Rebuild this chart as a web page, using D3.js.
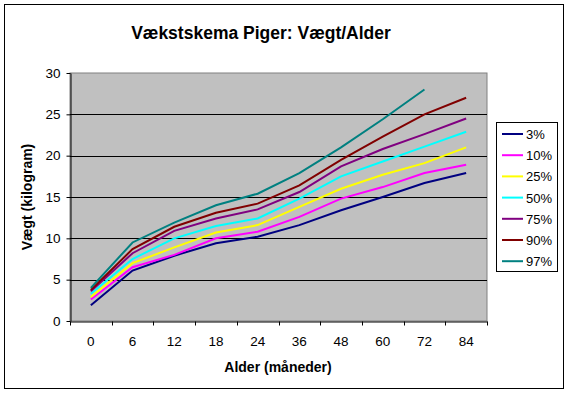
<!DOCTYPE html>
<html>
<head>
<meta charset="utf-8">
<script src="https://d3js.org/d3.v7.min.js"></script>
<style>
  body { margin: 0; background: white; }
  text { font-family: "Liberation Sans", Arial, sans-serif; }
</style>
</head>
<body>
<svg width="568" height="393"></svg>
<script>
// alder i måneder (kategorier på x-aksen)
const ages = ["0", "6", "12", "18", "24", "36", "48", "60", "72", "84"];
const yTicks = [0, 5, 10, 15, 20, 25, 30];

// vægt (kg) pr. percentil
const p3  = [1.9, 6.1, 7.9, 9.4, 10.2, 11.6, 13.4, 15.0, 16.7, 17.9];
const p10 = [2.6, 6.5, 8.0, 10.0, 10.8, 12.6, 14.8, 16.2, 17.9, 18.9];
const p25 = [2.9, 7.0, 8.9, 10.7, 11.6, 13.8, 16.0, 17.7, 19.1, 21.0];
const p50 = [3.3, 7.5, 10.0, 11.5, 12.4, 14.8, 17.5, 19.3, 21.1, 22.9];
const p75 = [3.6, 8.2, 10.9, 12.4, 13.5, 15.6, 18.7, 20.8, 22.6, 24.5];
const p90 = [3.75, 8.7, 11.4, 13.1, 14.2, 16.4, 19.5, 22.3, 25.0, 27.0];
const p97 = [4.0, 9.5, 11.9, 14.0, 15.4, 17.9, 21.0, 24.4, 28.0];

const series = [
  { name: "3%",  values: p3,  color: "#000080" },
  { name: "10%", values: p10, color: "#ff00ff" },
  { name: "25%", values: p25, color: "#ffff00" },
  { name: "50%", values: p50, color: "#00ffff" },
  { name: "75%", values: p75, color: "#800080" },
  { name: "90%", values: p90, color: "#800000" },
  { name: "97%", values: p97, color: "#008080" }
];

const svg = d3.select("svg");

// ydre ramme
svg.append("rect")
  .attr("x", 4.5).attr("y", 4.5)
  .attr("width", 559).attr("height", 384)
  .attr("fill", "white").attr("stroke", "black").attr("stroke-width", 1);

const plotL = 70, plotR = 487, plotT = 73, plotB = 321;

const x = d3.scaleBand().domain(ages).range([plotL, plotR]);
const y = d3.scaleLinear().domain([0, 30]).range([plotB, plotT]);

// plotområde
svg.append("rect")
  .attr("x", plotL).attr("y", plotT)
  .attr("width", plotR - plotL).attr("height", plotB - plotT)
  .attr("fill", "#c0c0c0").attr("stroke", "#808080").attr("stroke-width", 1);

// gitterlinjer
svg.append("g")
  .selectAll("line")
  .data(yTicks.slice(1, -1))
  .join("line")
  .attr("x1", plotL).attr("x2", plotR)
  .attr("y1", d => Math.round(y(d)) + 0.5).attr("y2", d => Math.round(y(d)) + 0.5)
  .attr("stroke", "black");

// akser
const yAxis = svg.append("g")
  .attr("transform", `translate(${plotL + 0.5},0)`)
  .call(d3.axisLeft(y).tickValues(yTicks).tickSize(4).tickSizeOuter(0).tickPadding(6));
yAxis.selectAll("text").attr("font-size", 13.5).attr("fill", "black");

const xAxis = svg.append("g")
  .attr("transform", `translate(0,${plotB + 0.5})`)
  .call(d3.axisBottom(x).tickSize(0).tickPadding(15));
xAxis.selectAll("text").attr("font-size", 13.5).attr("fill", "black");
// kategorigrænser som tick-mærker
xAxis.selectAll(".edge")
  .data(ages.concat(["end"]))
  .join("line")
  .attr("class", "edge")
  .attr("x1", (d, i) => Math.round(plotL + i * x.step()) + 0.5)
  .attr("x2", (d, i) => Math.round(plotL + i * x.step()) + 0.5)
  .attr("y1", 0).attr("y2", 4)
  .attr("stroke", "black");
svg.selectAll(".domain").attr("stroke", "black");

// linjer
const line = d3.line()
  .x((d, i) => x(ages[i]) + x.bandwidth() / 2)
  .y(d => y(d));

svg.append("g")
  .selectAll("path")
  .data(series)
  .join("path")
  .attr("d", d => line(d.values))
  .attr("fill", "none")
  .attr("stroke", d => d.color)
  .attr("stroke-width", 2);

// titler
svg.append("text")
  .attr("x", 261).attr("y", 39)
  .attr("text-anchor", "middle")
  .attr("font-size", 17.5).attr("font-weight", "bold")
  .text("Vækstskema Piger: Vægt/Alder");

svg.append("text")
  .attr("x", 278).attr("y", 371.5)
  .attr("text-anchor", "middle")
  .attr("font-size", 14).attr("font-weight", "bold")
  .text("Alder (måneder)");

svg.append("text")
  .attr("transform", "translate(32,197) rotate(-90)")
  .attr("text-anchor", "middle")
  .attr("font-size", 14).attr("font-weight", "bold")
  .text("Vægt (kilogram)");

// forklaring
const legend = svg.append("g");
legend.append("rect")
  .attr("x", 496.5).attr("y", 122.5)
  .attr("width", 61).attr("height", 149)
  .attr("fill", "white").attr("stroke", "black");

const item = legend.selectAll(".item")
  .data(series)
  .join("g")
  .attr("class", "item")
  .attr("transform", (d, i) => `translate(0,${134 + i * 21.2})`);
item.append("line")
  .attr("x1", 502).attr("x2", 523)
  .attr("stroke", d => d.color).attr("stroke-width", 2);
item.append("text")
  .attr("x", 526).attr("y", 5)
  .attr("font-size", 13)
  .text(d => d.name);
</script>
</body>
</html>
